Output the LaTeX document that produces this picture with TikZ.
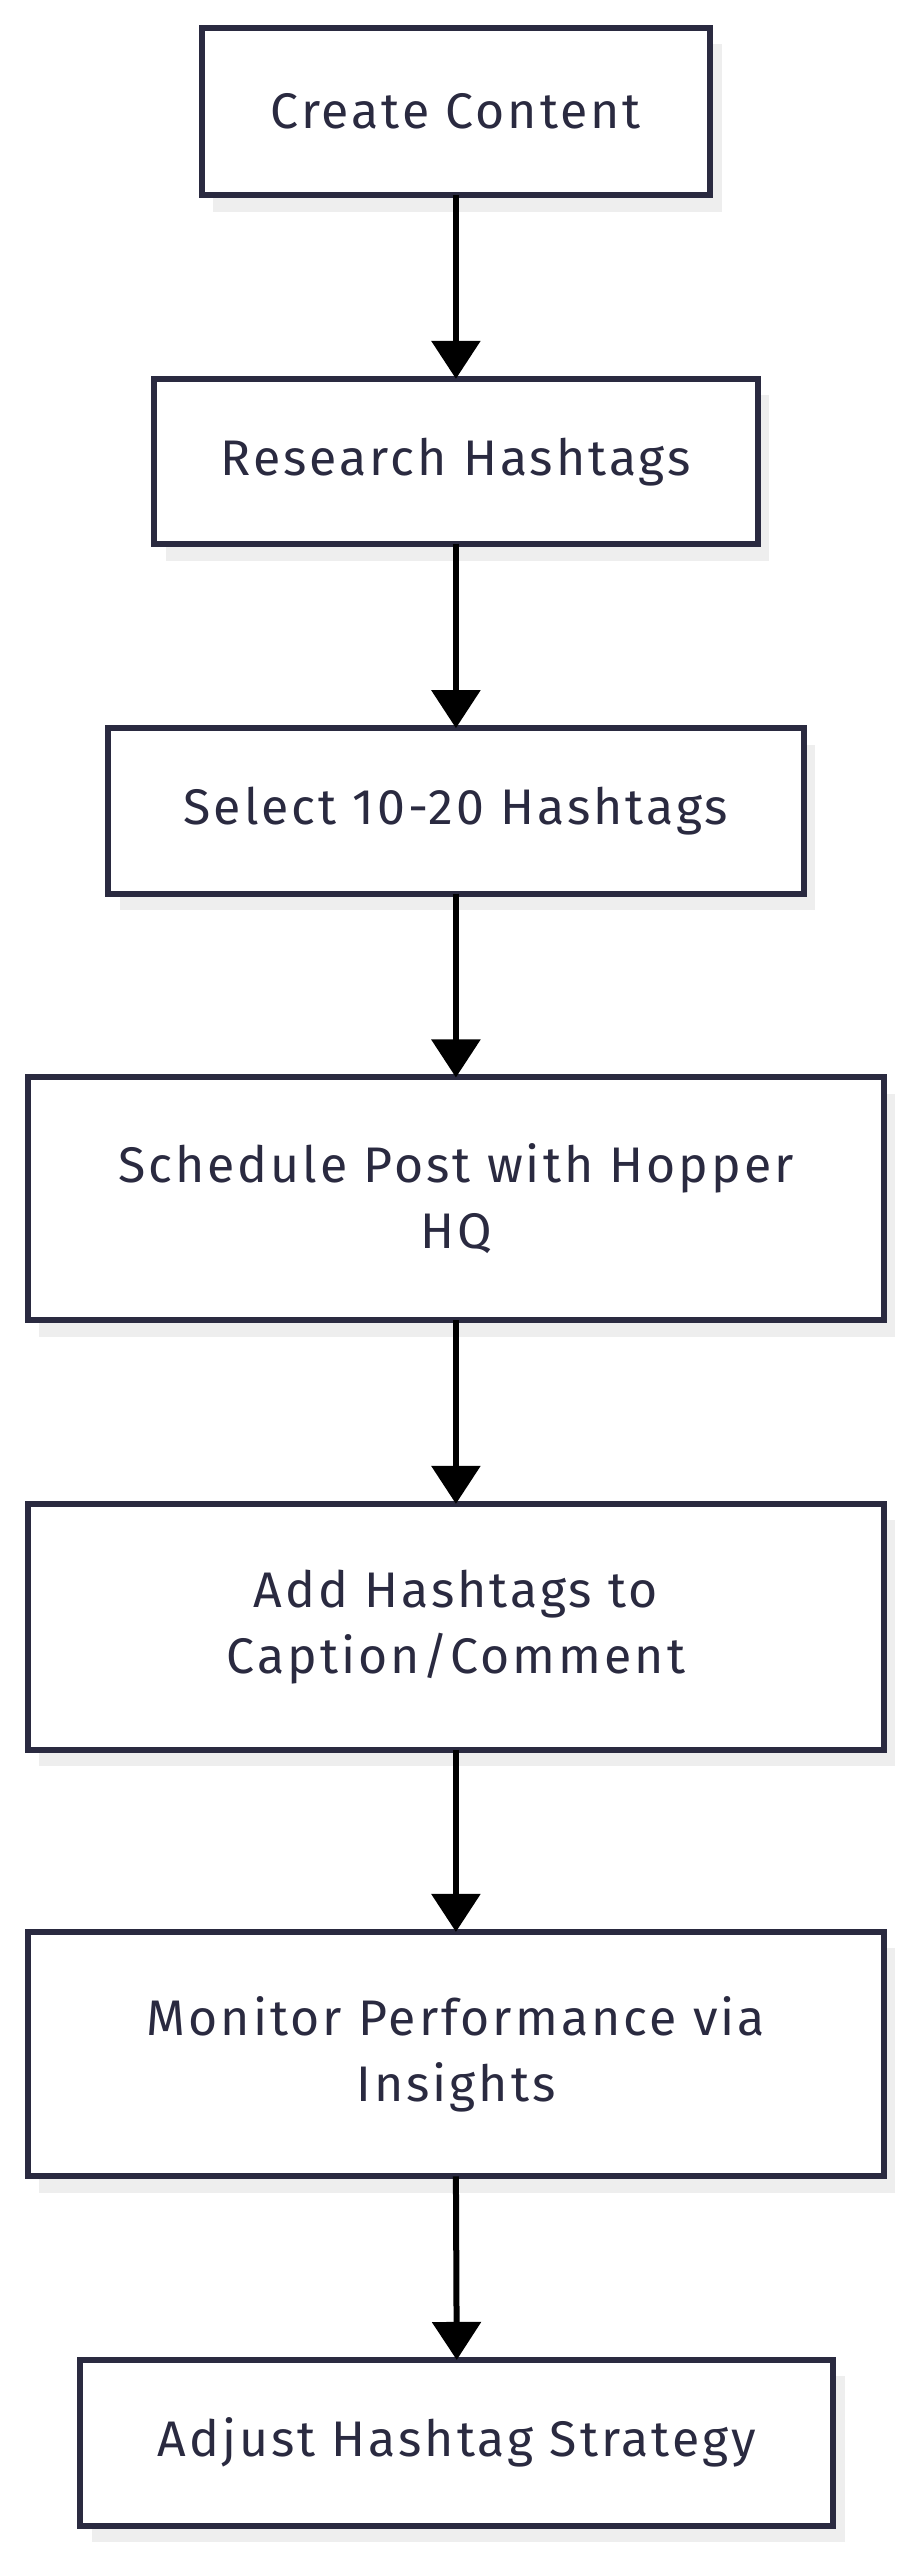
\documentclass[tikz,border=0pt]{standalone}
\usepackage{fontspec}
\setmainfont{Fira Sans}[LetterSpace=6]
\usetikzlibrary{arrows.meta}
\definecolor{ink}{HTML}{2A2A40}
\definecolor{shad}{HTML}{EEEEEE}
\begin{document}
\begin{tikzpicture}[x=1.64pt,y=-1.64pt,
  txt/.style={font=\fontsize{50}{66}\selectfont,text=ink,align=center},
  conn/.style={line width=6pt,-{Triangle[length=38pt,width=48pt]}}]
\useasboundingbox (0,0) rectangle (558,1561);
\def\bx#1#2#3#4#5#6{%
  \fill[shad] (#2+7,#3+10) rectangle (#4+7,#5+10);
  \draw[ink,line width=6pt,fill=white] (#2,#3) rectangle (#4,#5);
  \node[txt] (#1) at ({(#2+#4)/2},{(#3+#5)/2}) {#6};
  \coordinate (#1t) at ({(#2+#4)/2},#3);
  \coordinate (#1b) at ({(#2+#4)/2},#5);}
\bx{a}{123}{17}{433}{119}{Create Content}
\bx{b}{94}{231}{462}{332}{Research Hashtags}
\bx{c}{66}{444}{490}{545}{Select 10-20 Hashtags}
\bx{d}{17}{657}{539}{805}{Schedule Post with Hopper\\HQ}
\bx{e}{17}{917}{539}{1067}{Add Hashtags to\\Caption/Comment}
\bx{f}{17}{1178}{539}{1327}{Monitor Performance via\\Insights}
\bx{g}{49}{1439}{508}{1540}{Adjust Hashtag Strategy}
\draw[conn] (ab) -- (bt);
\draw[conn] (bb) -- (ct);
\draw[conn] (cb) -- (dt);
\draw[conn] (db) -- (et);
\draw[conn] (eb) -- (ft);
\draw[conn] (fb) -- (gt);
\end{tikzpicture}
\end{document}
